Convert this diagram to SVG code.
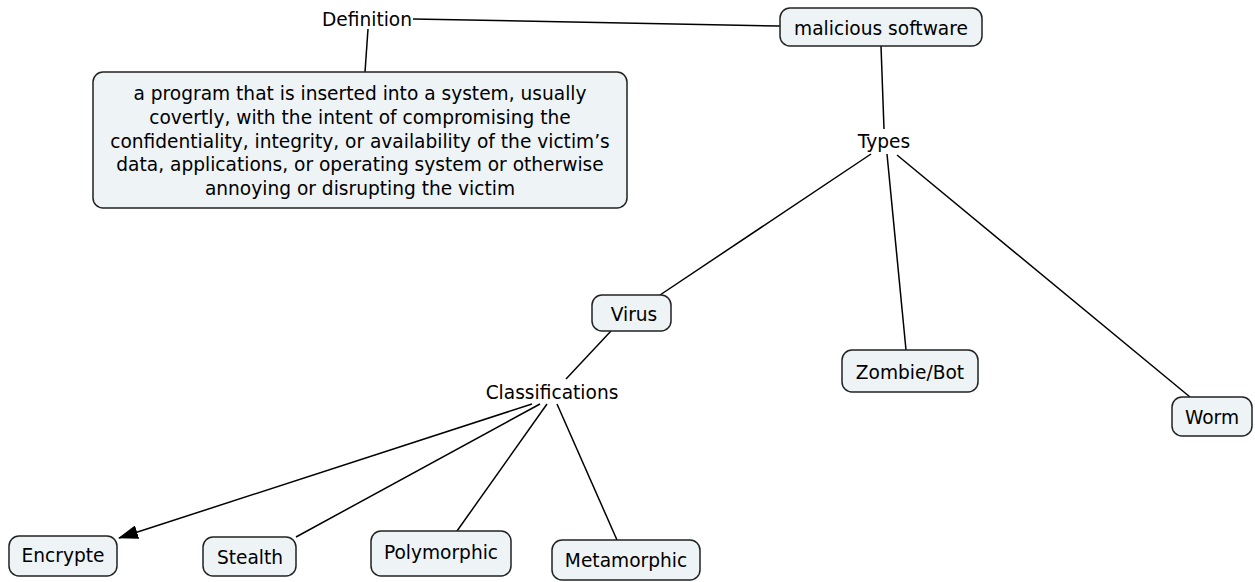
<svg xmlns="http://www.w3.org/2000/svg" width="1255" height="582" viewBox="0 0 1255 582">
  <style>
    .box { fill: #eef3f5; stroke: #222; stroke-width: 1.5; }
    .lbl { font-family: "DejaVu Sans", Verdana, sans-serif; font-size: 18.6px; fill: #000; text-anchor: middle; dominant-baseline: central; }
    .link { stroke: #000; stroke-width: 1.5; fill: none; }
  </style>
  <defs>
    <marker id="arrow" viewBox="0 0 20 14" refX="19" refY="7" markerWidth="20" markerHeight="14" markerUnits="userSpaceOnUse" orient="auto">
      <path d="M0,0 L20,7 L0,14 z" fill="#000"/>
    </marker>
  </defs>
  <rect width="1255" height="582" fill="#fff"/>

  <!-- connectors -->
  <g id="connectors">
    <line class="link" x1="413" y1="19" x2="780" y2="26"/>
    <line class="link" x1="368" y1="29" x2="365" y2="72"/>
    <line class="link" x1="881" y1="46" x2="884" y2="129"/>
    <line class="link" x1="871" y1="154" x2="660" y2="295"/>
    <line class="link" x1="887" y1="154" x2="906" y2="350"/>
    <line class="link" x1="897" y1="155" x2="1190" y2="397"/>
    <line class="link" x1="611" y1="331" x2="566" y2="379"/>
    <path class="link" d="M532,404 L119,538" marker-end="url(#arrow)"/>
    <line class="link" x1="540" y1="404" x2="296" y2="537"/>
    <line class="link" x1="547" y1="404" x2="457" y2="531"/>
    <line class="link" x1="557" y1="404" x2="617" y2="540"/>
  </g>

  <!-- linking phrases -->
  <g id="definition"><text class="lbl" x="367" y="19">Definition</text></g>
  <g id="types"><text class="lbl" x="884" y="141">Types</text></g>
  <g id="classifications"><text class="lbl" x="552" y="392">Classifications</text></g>

  <!-- concepts -->
  <g id="malicious-software">
    <rect class="box" x="780" y="8" width="202" height="38" rx="10"/>
    <text class="lbl" x="881" y="28">malicious software</text>
  </g>
  <g id="definition-text">
    <rect class="box" x="93" y="72" width="534" height="136" rx="10"/>
    <text class="lbl" x="360" y="93">a program that is inserted into a system, usually</text>
    <text class="lbl" x="360" y="117">covertly, with the intent of compromising the</text>
    <text class="lbl" x="360" y="141">confidentiality, integrity, or availability of the victim’s</text>
    <text class="lbl" x="360" y="164">data, applications, or operating system or otherwise</text>
    <text class="lbl" x="360" y="188">annoying or disrupting the victim</text>
  </g>
  <g id="virus">
    <rect class="box" x="592" y="295" width="79" height="36" rx="10"/>
    <text class="lbl" x="634" y="314">Virus</text>
  </g>
  <g id="zombie-bot">
    <rect class="box" x="842" y="350" width="136" height="42" rx="10"/>
    <text class="lbl" x="910" y="372">Zombie/Bot</text>
  </g>
  <g id="worm">
    <rect class="box" x="1172" y="397" width="80" height="39" rx="10"/>
    <text class="lbl" x="1212" y="417">Worm</text>
  </g>
  <g id="encrypte">
    <rect class="box" x="9" y="536" width="108" height="40" rx="10"/>
    <text class="lbl" x="63" y="555">Encrypte</text>
  </g>
  <g id="stealth">
    <rect class="box" x="203" y="537" width="93" height="39" rx="10"/>
    <text class="lbl" x="250" y="557">Stealth</text>
  </g>
  <g id="polymorphic">
    <rect class="box" x="371" y="531" width="140" height="45" rx="10"/>
    <text class="lbl" x="441" y="552">Polymorphic</text>
  </g>
  <g id="metamorphic">
    <rect class="box" x="552" y="540" width="148" height="40" rx="10"/>
    <text class="lbl" x="626" y="560">Metamorphic</text>
  </g>
</svg>
